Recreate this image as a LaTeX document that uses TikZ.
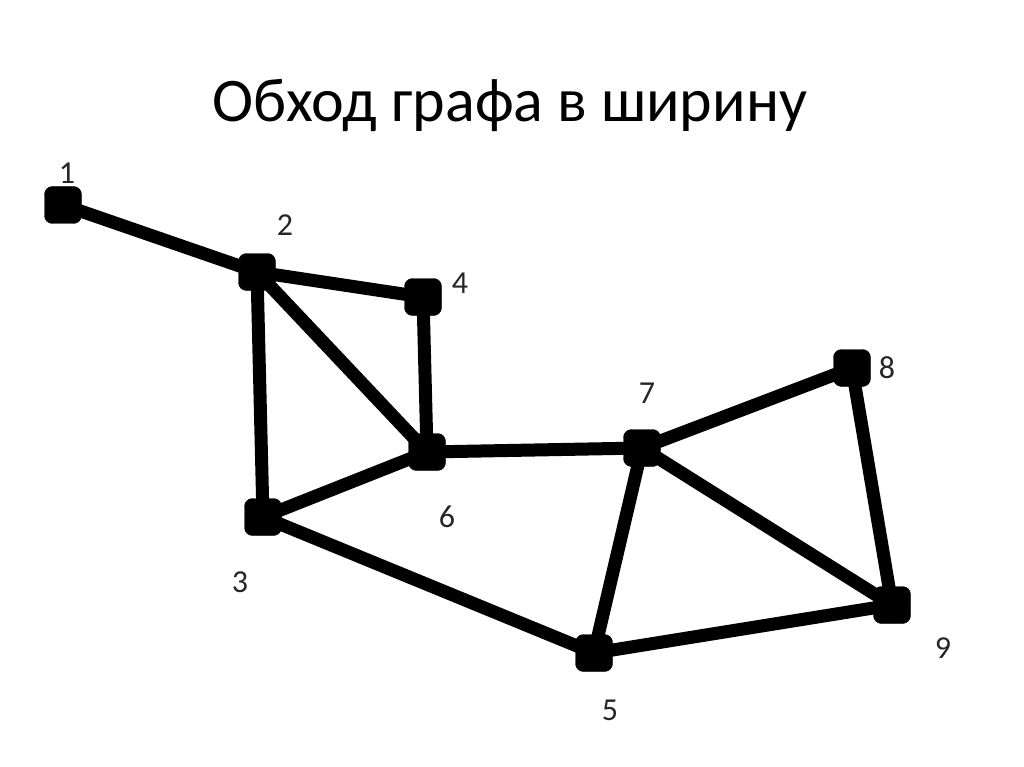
\documentclass[tikz,border=0pt]{standalone}
\usepackage{fontspec}
\setmainfont{Carlito}
\begin{document}
\begin{tikzpicture}[x=1pt,y=-1pt,
  vert/.style={draw=black,fill=black,rounded corners=8pt,minimum width=37pt,minimum height=37pt,inner sep=0pt},
  lbl/.style={font=\fontsize{32}{32}\selectfont,text=black!85,inner sep=0pt},
  edge/.style={line width=13pt,black}]
\useasboundingbox (0,0) rectangle (1024,767);
\node[font=\fontsize{62}{62}\selectfont,anchor=base] (title) at (510,122) {Обход графа в ширину};
\node[vert] (n1) at (63,205) {};
\node[vert] (n2) at (257,272) {};
\node[vert] (n4) at (423,297) {};
\node[vert] (n6) at (427,452) {};
\node[vert] (n7) at (642,448) {};
\node[vert] (n8) at (852,368) {};
\node[vert] (n3) at (263,517) {};
\node[vert] (n5) at (594,653) {};
\node[vert] (n9) at (892,605) {};
\foreach \a/\b in {n1/n2,n2/n4,n2/n6,n2/n3,n4/n6,n3/n6,n3/n5,n6/n7,n7/n8,n7/n5,n7/n9,n8/n9,n5/n9}
  \draw[edge] (\a.center) -- (\b.center);
\node[lbl] (l1) at (67,173) {1};
\node[lbl] (l2) at (285,225) {2};
\node[lbl] (l4) at (460,283) {4};
\node[lbl] (l6) at (447,517) {6};
\node[lbl] (l7) at (647,393) {7};
\node[lbl] (l8) at (887,368) {8};
\node[lbl] (l3) at (240,582) {3};
\node[lbl] (l5) at (610,710) {5};
\node[lbl] (l9) at (943,648) {9};
\end{tikzpicture}
\end{document}
